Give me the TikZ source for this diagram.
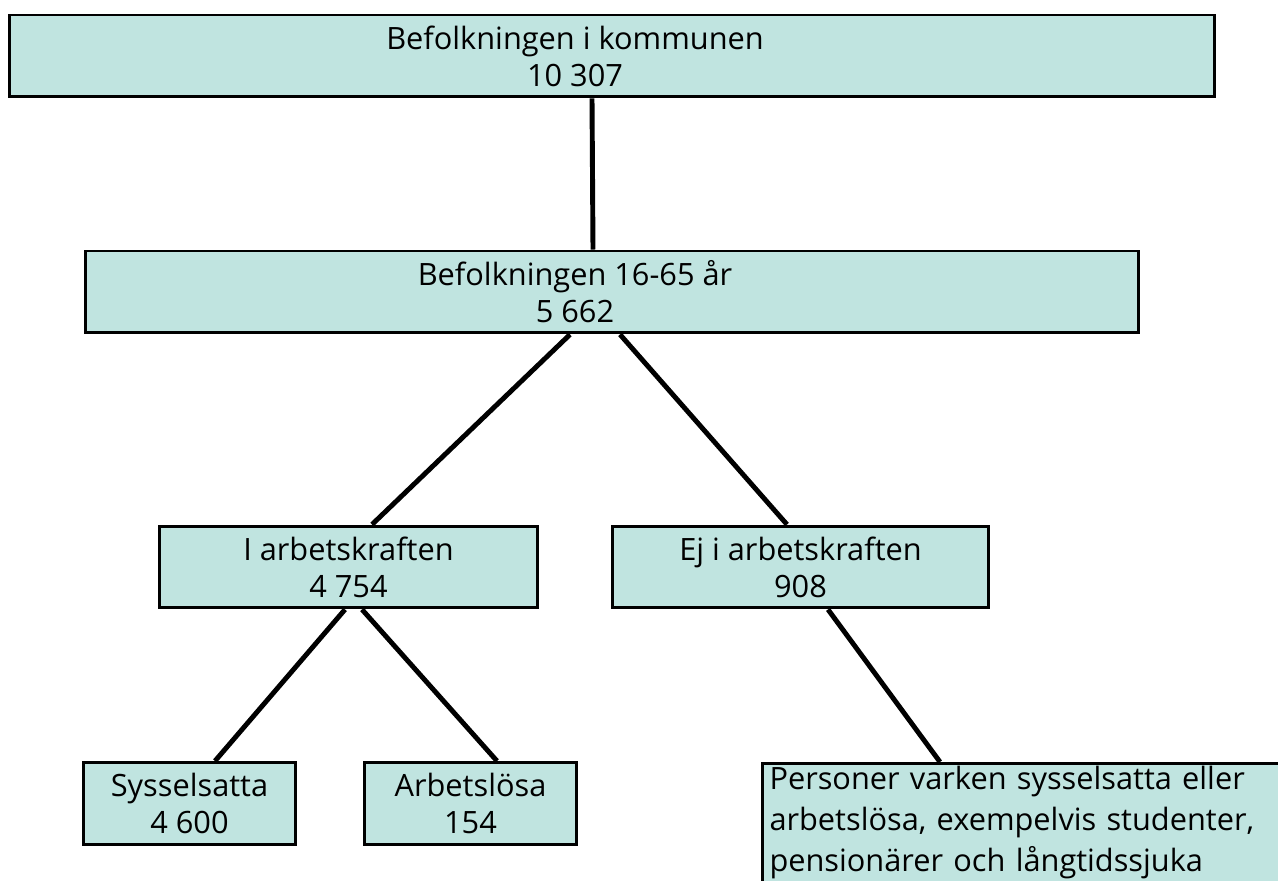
\documentclass[tikz,border=0pt]{standalone}
\usepackage{fontspec}
\setmainfont{Open Sans}
\usetikzlibrary{calc}
\definecolor{boxfill}{RGB}{192,228,224}

\begin{document}
\begin{tikzpicture}[x=0.02cm,y=-0.02cm,
	box/.style={draw,rectangle,fill=boxfill,line width=1.7pt,inner sep=0pt,minimum height=1.64cm,align=center,font=\fontsize{17.5}{21}\selectfont},
	boxtext/.style={align=center,font=\fontsize{17.5}{21}\selectfont,xshift=-0.74cm},
	link/.style={line width=2.8pt}]
	\useasboundingbox (0,0) rectangle (1278,881);

	\node[box,minimum width=24.12cm,label={[boxtext]center:Befolkningen i kommunen\\10 307}] (pop) at (612,56) {};
	\node[box,minimum width=21.08cm,label={[boxtext]center:Befolkningen 16-65 år\\5 662}] (age) at (612,292) {};
	\node[box,minimum width=7.58cm] (labour) at (348.5,567) {I arbetskraften\\4 754};
	\node[box,minimum width=7.54cm] (nonlabour) at (800.5,567) {Ej i arbetskraften\\908};
	\node[box,minimum width=4.26cm] (employed) at (189.5,803.5) {Sysselsatta\\4 600};
	\node[box,minimum width=4.26cm] (unemployed) at (470.5,803.5) {Arbetslösa\\154};
	\node[box,anchor=north west,align=left,text width=10.6cm,inner xsep=0.14cm,inner ysep=0.06cm,text depth=2.6cm,font=\fontsize{17.5}{23.3}\selectfont] (other) at (761,762) {Personer varken sysselsatta eller\\arbetslösa, exempelvis studenter,\\pensionärer och långtidssjuka};

	\draw[link] ($(pop.south)+(-20,0)$) -- ($(age.north)+(-19,0)$);
	\draw[link] ($(age.south)+(-42,0)$) -- ($(labour.north)+(23.5,0)$);
	\draw[link] ($(age.south)+(8,0)$) -- ($(nonlabour.north)+(-13.5,0)$);
	\draw[link] ($(labour.south)+(-3.5,0)$) -- ($(employed.north)+(25.5,0)$);
	\draw[link] ($(labour.south)+(13.5,0)$) -- ($(unemployed.north)+(26.5,0)$);
	\draw[link] ($(nonlabour.south)+(27.5,0)$) -- ($(other.north west)+(179,0)$);
\end{tikzpicture}
\end{document}
